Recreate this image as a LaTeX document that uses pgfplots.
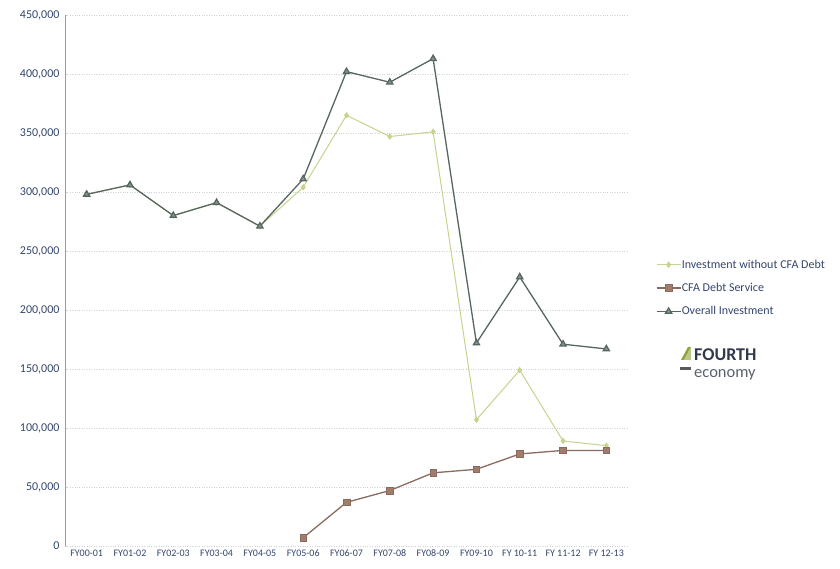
\documentclass[border=0pt]{standalone}
\usepackage{pgfplots}
\pgfplotsset{compat=1.18}
\usepackage{fontspec}
\setmainfont{Carlito}
\definecolor{overall}{HTML}{56675E}
\definecolor{invwo}{HTML}{C5D38C}
\definecolor{cfa}{HTML}{8A6B60}
\definecolor{cfafill}{HTML}{A07C6C}
\definecolor{ticktxt}{HTML}{34466B}
\definecolor{gridc}{HTML}{CDD2DA}
\definecolor{logotxt}{HTML}{2F3A4A}
\definecolor{logogreen}{HTML}{8FA33A}
\begin{document}
\begin{tikzpicture}[x=1pt,y=1pt]
\useasboundingbox (0,0) rectangle (840,569);
\begin{axis}[
  at={(65pt,23pt)}, anchor=south west,
  scale only axis, width=563pt, height=531pt,
  xmin=-0.5, xmax=12.5, ymin=0, ymax=450000,
  xtick={0,...,12},
  xticklabels={FY00-01,FY01-02,FY02-03,FY03-04,FY04-05,FY05-06,FY06-07,FY07-08,FY08-09,FY09-10,FY 10-11,FY 11-12,FY 12-13},
  ytick={0,50000,...,450000},
  scaled y ticks=false,
  /pgf/number format/.cd, fixed, 1000 sep={,}, assume math mode=true, /pgfplots/.cd,
  yticklabel style={font=\fontsize{12}{14}\selectfont, text=ticktxt, xshift=-2pt},
  xticklabel style={font=\fontsize{10}{11}\selectfont, text=ticktxt},
  axis lines*=left,
  x axis line style={draw=none},
  y axis line style={draw=gridc!80!blue!60!gray, line width=0.6pt},
  major tick length=3pt,
  tick style={draw=gridc},
  xtick style={draw=none},
  ymajorgrids, grid style={draw=gridc, dotted, line width=0.7pt},
  legend style={at={(rel axis cs:1.044,0.544)}, anchor=north west, draw=none, fill=none,
    font=\fontsize{12}{14}\selectfont, text=ticktxt, row sep=12.5pt,
    nodes={inner sep=0.5pt}},
  legend cell align=left,
  legend image code/.code={\draw[mark repeat=2,mark phase=2,#1] plot coordinates {(0pt,0pt) (12pt,0pt) (24pt,0pt)};},
]
\addplot[color=invwo, line width=1pt, mark=diamond*, mark size=2.5pt, mark options={fill=invwo, draw=invwo}]
 coordinates {(0,298000)(1,306000)(2,280000)(3,291000)(4,271000)(5,304000)(6,365000)(7,347000)(8,351000)(9,107000)(10,149000)(11,89000)(12,85000)};
\addlegendentry{Investment without CFA Debt}
\addplot[color=cfa, line width=1.3pt, mark=square*, mark size=3.3pt, mark options={fill=cfafill, draw=cfa, line width=0.6pt}]
 coordinates {(5,7000)(6,37000)(7,47000)(8,62000)(9,65000)(10,78000)(11,81000)(12,81000)};
\addlegendentry{CFA Debt Service}
\addplot[color=overall, line width=1.3pt, mark=triangle*, mark size=3.5pt, mark options={fill=overall!70!white, draw=overall}]
 coordinates {(0,298000)(1,306000)(2,280000)(3,291000)(4,271000)(5,311000)(6,402000)(7,393000)(8,413000)(9,172000)(10,228000)(11,171000)(12,167000)};
\addlegendentry{Overall Investment}
\end{axis}
% logo
\fill[logogreen] (681,209) -- (688,222) -- (691,222) -- (684,209) -- cycle;
\fill[logogreen!60!white] (684,209) -- (691,222) -- (691,209) -- cycle;
\fill[gray!70!black] (680,199) rectangle (691,202);
\node[anchor=base west, inner sep=0pt, text=logotxt] at (694,208) {\fontsize{18}{20}\selectfont\bfseries FOURTH};
\node[anchor=base west, inner sep=0pt, text=logotxt!80!white] at (694,191) {\fontsize{16.5}{18}\selectfont economy};
\end{tikzpicture}
\end{document}
